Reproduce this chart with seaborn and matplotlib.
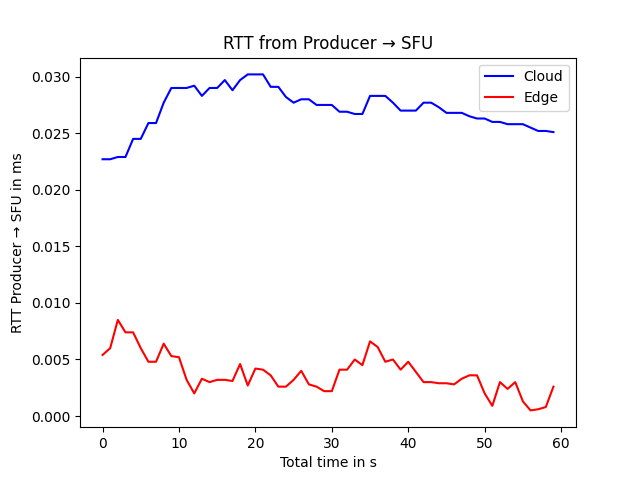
import numpy as np
import matplotlib.pyplot as plt
import seaborn as sns

# Data (one sample per second)
seconds = list(range(60))
cloud_rtt = [
    0.0227, 0.0227, 0.0229, 0.0229, 0.0245, 0.0245, 0.0259, 0.0259, 0.0277, 0.0290,
    0.0290, 0.0290, 0.0292, 0.0283, 0.0290, 0.0290, 0.0297, 0.0288, 0.0297, 0.0302,
    0.0302, 0.0302, 0.0291, 0.0291, 0.0282, 0.0277, 0.0280, 0.0280, 0.0275, 0.0275,
    0.0275, 0.0269, 0.0269, 0.0267, 0.0267, 0.0283, 0.0283, 0.0283, 0.0277, 0.0270,
    0.0270, 0.0270, 0.0277, 0.0277, 0.0273, 0.0268, 0.0268, 0.0268, 0.0265, 0.0263,
    0.0263, 0.0260, 0.0260, 0.0258, 0.0258, 0.0258, 0.0255, 0.0252, 0.0252, 0.0251,
]
edge_rtt = [
    0.0054, 0.0060, 0.0085, 0.0074, 0.0074, 0.0060, 0.0048, 0.0048, 0.0064, 0.0053,
    0.0052, 0.0032, 0.0020, 0.0033, 0.0030, 0.0032, 0.0032, 0.0031, 0.0046, 0.0027,
    0.0042, 0.0041, 0.0036, 0.0026, 0.0026, 0.0032, 0.0040, 0.0028, 0.0026, 0.0022,
    0.0022, 0.0041, 0.0041, 0.0050, 0.0045, 0.0066, 0.0061, 0.0048, 0.0050, 0.0041,
    0.0048, 0.0039, 0.0030, 0.0030, 0.0029, 0.0029, 0.0028, 0.0033, 0.0036, 0.0036,
    0.0020, 0.0009, 0.0030, 0.0024, 0.0030, 0.0013, 0.0005, 0.0006, 0.0008, 0.0026,
]

fig, ax = plt.subplots(figsize=(6.4, 4.8), dpi=100)

sns.lineplot(x=seconds, y=cloud_rtt, color="blue", label="Cloud", ax=ax)
sns.lineplot(x=seconds, y=edge_rtt, color="red", label="Edge", ax=ax)

ax.set_title("RTT from Producer → SFU")
ax.set_xlabel("Total time in s")
ax.set_ylabel("RTT Producer → SFU in ms")
ax.legend(loc="upper right")

plt.savefig("out.png")
